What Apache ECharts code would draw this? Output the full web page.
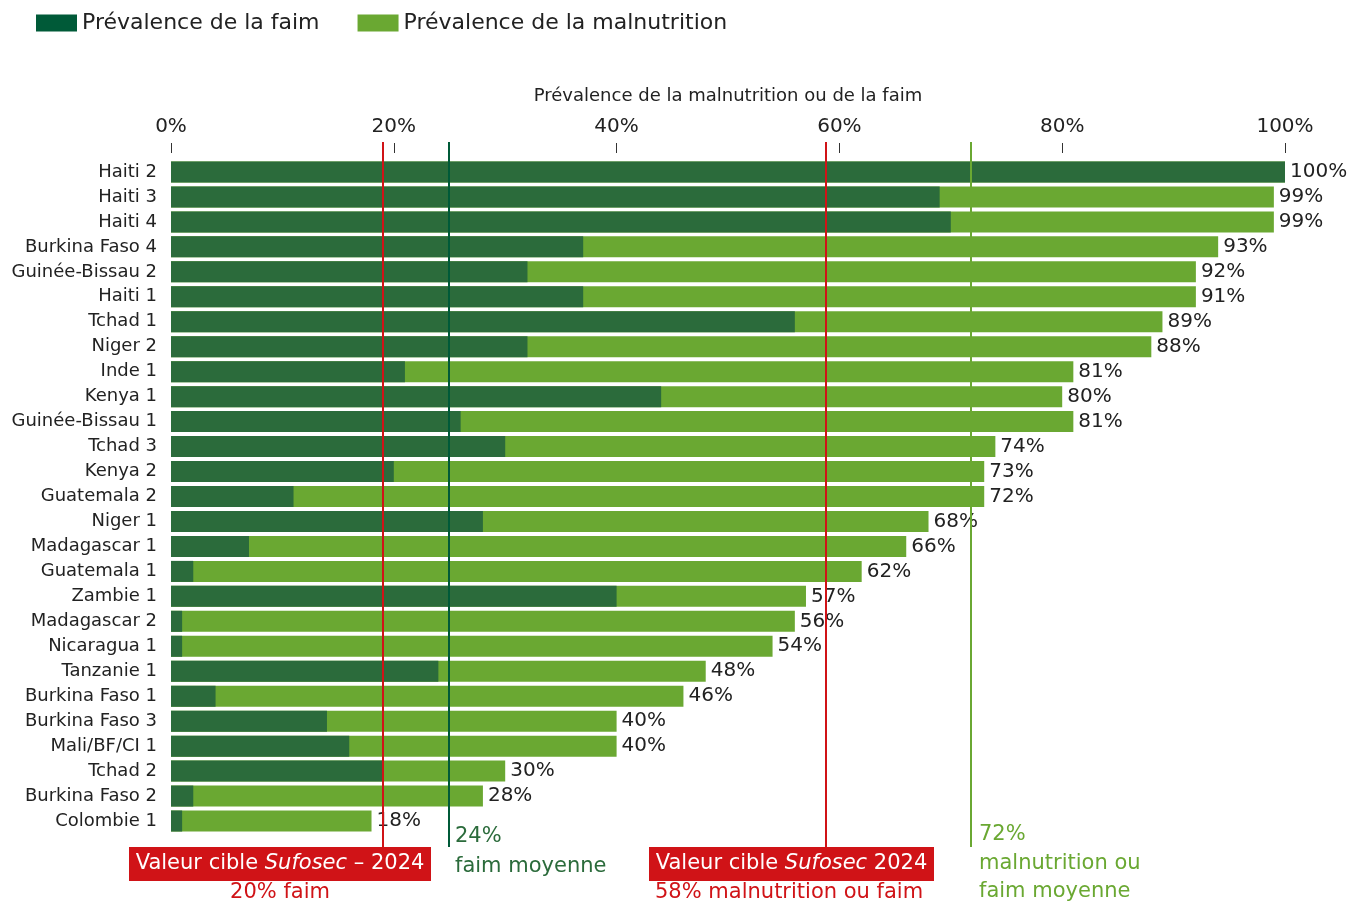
<!DOCTYPE html>
<html>
<head>
<meta charset="utf-8">
<title>Prévalence de la malnutrition ou de la faim</title>
<script src="https://cdn.jsdelivr.net/npm/echarts@6/dist/echarts.min.js"></script>
<style>
  html, body { margin: 0; padding: 0; background: #fff; }
  #chart { width: 1348px; height: 903px; }
</style>
</head>
<body>
<div id="chart"></div>
<script>
  // projets, du plus touché au moins touché
  const categories = [
    'Haiti 2', 'Haiti 3', 'Haiti 4', 'Burkina Faso 4', 'Guinée-Bissau 2', 'Haiti 1',
    'Tchad 1', 'Niger 2', 'Inde 1', 'Kenya 1', 'Guinée-Bissau 1', 'Tchad 3',
    'Kenya 2', 'Guatemala 2', 'Niger 1', 'Madagascar 1', 'Guatemala 1', 'Zambie 1',
    'Madagascar 2', 'Nicaragua 1', 'Tanzanie 1', 'Burkina Faso 1', 'Burkina Faso 3',
    'Mali/BF/CI 1', 'Tchad 2', 'Burkina Faso 2', 'Colombie 1'
  ];
  // malnutrition ou faim (longueur de la barre claire)
  const malnutrition = [
    100, 99, 99, 94, 92, 92, 89, 88, 81, 80, 81, 74, 73, 73, 68, 66, 62, 57,
    56, 54, 48, 46, 40, 40, 30, 28, 18
  ];
  // faim (barre foncée)
  const faim = [
    100, 69, 70, 37, 32, 37, 56, 32, 21, 44, 26, 30, 20, 11, 28, 7, 2, 40,
    1, 1, 24, 4, 14, 16, 19, 2, 1
  ];
  // étiquettes affichées au bout des barres
  const valueLabels = [
    '100%', '99%', '99%', '93%', '92%', '91%', '89%', '88%', '81%', '80%', '81%', '74%',
    '73%', '72%', '68%', '66%', '62%', '57%', '56%', '54%', '48%', '46%', '40%', '40%',
    '30%', '28%', '18%'
  ];
  // lignes de référence (position)
  const refLines = [
    { name: 'cible faim', value: 19, color: '#d01317' },
    { name: 'faim moyenne', value: 24.9, color: '#005a38' },
    { name: 'cible malnutrition', value: 58.8, color: '#d01317' },
    { name: 'malnutrition moyenne', value: 71.8, color: '#6aa832' }
  ];

  const font = '"DejaVu Sans", "Noto Sans", sans-serif';
  const dark = '#2b6b3b';
  const light = '#6aa832';
  const red = '#d01317';

  const chart = echarts.init(document.getElementById('chart'));

  chart.setOption({
    animation: false,
    textStyle: { fontFamily: font },
    legend: {
      left: 36,
      top: 12,
      padding: 0,
      itemWidth: 41,
      itemHeight: 17,
      itemGap: 38,
      icon: 'rect',
      textStyle: { fontSize: 22, color: '#222', fontFamily: font },
      data: [
        { name: 'Prévalence de la faim', itemStyle: { color: '#005a38' } },
        { name: 'Prévalence de la malnutrition', itemStyle: { color: light } }
      ]
    },
    grid: [
      { left: 171, right: 63, top: 159.5, height: 674 },
      { left: 171, right: 63, top: 142, bottom: 56 }
    ],
    xAxis: [
      {
        gridIndex: 0,
        type: 'value',
        position: 'top',
        offset: 6.5,
        min: 0,
        max: 100,
        interval: 20,
        name: 'Prévalence de la malnutrition ou de la faim',
        nameLocation: 'middle',
        nameGap: 48,
        nameTextStyle: { fontSize: 18, color: '#222' },
        axisLine: { show: false },
        axisTick: { show: true, length: 10, lineStyle: { color: '#333', width: 1 } },
        axisLabel: { formatter: '{value}%', fontSize: 20, color: '#222', margin: 16 },
        splitLine: { show: false }
      },
      {
        gridIndex: 1,
        type: 'value',
        min: 0,
        max: 100,
        show: false
      }
    ],
    yAxis: [
      {
        gridIndex: 0,
        type: 'category',
        inverse: true,
        data: categories,
        axisLine: { show: false },
        axisTick: { show: false },
        axisLabel: { fontSize: 18, color: '#222', margin: 14 }
      },
      {
        gridIndex: 1,
        type: 'value',
        min: 0,
        max: 1,
        show: false
      }
    ],
    series: [
      {
        name: 'Prévalence de la malnutrition',
        type: 'bar',
        xAxisIndex: 0,
        yAxisIndex: 0,
        barWidth: 21,
        barGap: '-100%',
        itemStyle: { color: light },
        label: {
          show: true,
          position: 'right',
          distance: 5,
          fontSize: 20,
          color: '#222',
          formatter: (p) => valueLabels[p.dataIndex]
        },
        data: malnutrition
      },
      {
        name: 'Prévalence de la faim',
        type: 'bar',
        xAxisIndex: 0,
        yAxisIndex: 0,
        barWidth: 21,
        barGap: '-100%',
        itemStyle: { color: dark },
        data: faim
      },
      {
        name: 'refs',
        type: 'scatter',
        xAxisIndex: 1,
        yAxisIndex: 1,
        symbolSize: 0,
        silent: true,
        data: [[0, 0]],
        markLine: {
          silent: true,
          symbol: 'none',
          label: { show: false },
          data: refLines.map((r) => [
            { coord: [r.value, 0], lineStyle: { color: r.color, width: 2, type: 'solid' } },
            { coord: [r.value, 1] }
          ])
        }
      }
    ],
    graphic: [
      // cible faim
      { type: 'rect', shape: { x: 129, y: 847, width: 302, height: 34 }, style: { fill: red }, z: 10 },
      {
        type: 'text', x: 280, y: 864, z: 11,
        style: {
          text: '{n|Valeur cible }{i|Sufosec}{n| – 2024}',
          align: 'center', verticalAlign: 'middle',
          rich: {
            n: { fontSize: 21, fill: '#fff', fontFamily: font },
            i: { fontSize: 21, fill: '#fff', fontFamily: font, fontStyle: 'italic' }
          }
        }
      },
      {
        type: 'text', x: 280, y: 893, z: 11,
        style: { text: '20% faim', align: 'center', verticalAlign: 'middle', fontSize: 21, fill: red, fontFamily: font }
      },
      // faim moyenne
      {
        type: 'text', x: 455, y: 837, z: 11,
        style: { text: '24%', verticalAlign: 'middle', fontSize: 21, fill: '#2b6b3b', fontFamily: font }
      },
      {
        type: 'text', x: 455, y: 867, z: 11,
        style: { text: 'faim moyenne', verticalAlign: 'middle', fontSize: 21, fill: '#2b6b3b', fontFamily: font }
      },
      // cible malnutrition ou faim
      { type: 'rect', shape: { x: 649, y: 847, width: 285, height: 34 }, style: { fill: red }, z: 10 },
      {
        type: 'text', x: 791.5, y: 864, z: 11,
        style: {
          text: '{n|Valeur cible }{i|Sufosec}{n| 2024}',
          align: 'center', verticalAlign: 'middle',
          rich: {
            n: { fontSize: 21, fill: '#fff', fontFamily: font },
            i: { fontSize: 21, fill: '#fff', fontFamily: font, fontStyle: 'italic' }
          }
        }
      },
      {
        type: 'text', x: 655, y: 893, z: 11,
        style: { text: '58% malnutrition ou faim', verticalAlign: 'middle', fontSize: 21, fill: red, fontFamily: font }
      },
      // malnutrition ou faim moyenne
      {
        type: 'text', x: 979, y: 835, z: 11,
        style: { text: '72%', verticalAlign: 'middle', fontSize: 21, fill: light, fontFamily: font }
      },
      {
        type: 'text', x: 979, y: 864, z: 11,
        style: { text: 'malnutrition ou', verticalAlign: 'middle', fontSize: 21, fill: light, fontFamily: font }
      },
      {
        type: 'text', x: 979, y: 892, z: 11,
        style: { text: 'faim moyenne', verticalAlign: 'middle', fontSize: 21, fill: light, fontFamily: font }
      }
    ]
  });
</script>
</body>
</html>
